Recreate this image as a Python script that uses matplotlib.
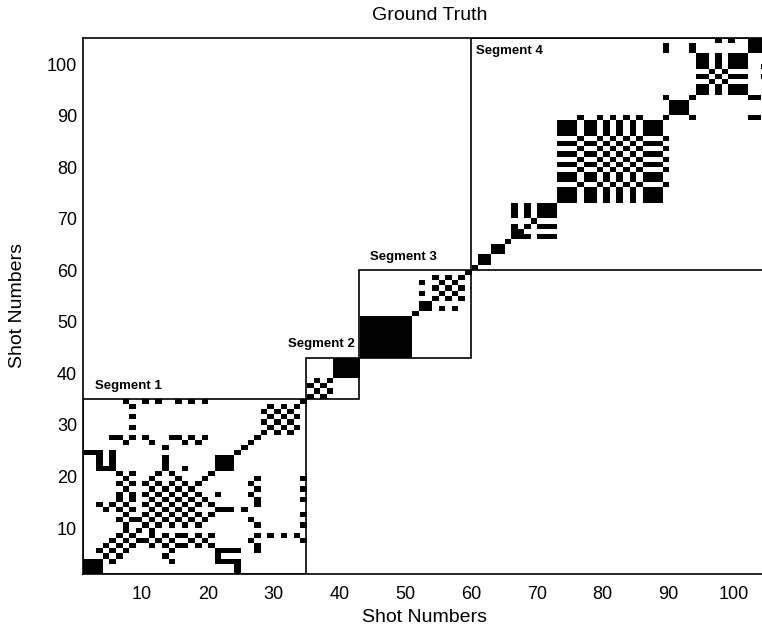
import numpy as np
import matplotlib
matplotlib.use("Agg")
import matplotlib.pyplot as plt
from matplotlib.patches import Rectangle

plt.rcParams['font.family'] = ['Liberation Sans', 'DejaVu Sans']

# ---------------- data ----------------
N_SHOTS = 104
segment_edges = [1, 35, 43, 60, 105]
segment_names = ["Segment 1", "Segment 2", "Segment 3", "Segment 4"]
tick_values = [10, 20, 30, 40, 50, 60, 70, 80, 90, 100]

# runs of consecutive shots that are all alike (solid squares on the diagonal)
alike_runs = [(1, 3), (21, 23), (39, 42), (43, 50), (52, 53), (61, 62),
              (63, 64), (66, 67), (70, 72), (90, 92), (102, 104)]

# groups of shots that are all alike (give the checkerboards)
alike_groups = [
    [28, 30, 32], [29, 31, 33],
    [35, 37], [36, 38],
    [54, 56, 58], [55, 57],
    [66, 68, 70, 71, 72],
    [73, 74, 75, 77, 78, 80, 82, 84, 86, 87, 88],
    [76, 79, 81, 83, 85, 89],
    [94, 95, 97, 99, 100, 101],
    [96, 98],
]

# single pairs of alike shots
alike_pairs = [
    (1, 24), (2, 24),
    (3, 21), (3, 22), (3, 23), (3, 24), (4, 21), (5, 21), (5, 22), (5, 23), (5, 24),
    (8, 29), (8, 31), (8, 33),
    (7, 34), (10, 34), (12, 34), (15, 34), (17, 34), (19, 34),
    (6, 27), (7, 26), (8, 27), (10, 27), (11, 26), (13, 25), (15, 27), (16, 26),
    (17, 27), (18, 26), (19, 27), (5, 27), (14, 27),
    (13, 21), (13, 22), (13, 23), (12, 20), (14, 20), (11, 19), (15, 19), (16, 21),
    (6, 20), (7, 19), (8, 20),
    (6, 16), (8, 16), (7, 17), (6, 18), (8, 18),
    (10, 16), (12, 16), (11, 17), (10, 18), (12, 18),
    (14, 16), (13, 17), (15, 17), (14, 18), (16, 18),
    (3, 14), (4, 13), (5, 14),
    (6, 13), (8, 13), (7, 14), (6, 15), (8, 15),
    (10, 14), (11, 13), (11, 15), (12, 14), (13, 15),
    (6, 11), (7, 10), (8, 11), (7, 12),
    (9, 11), (10, 12),
    (5, 7), (6, 8), (7, 9),
    (3, 5), (4, 6),
    (52, 55), (52, 57),
    (89, 93), (89, 102), (89, 103), (93, 102), (93, 103), (97, 104), (99, 104),
]

# ---------------- build matrix ----------------
M = np.zeros((N_SHOTS, N_SHOTS))
for i in range(N_SHOTS):
    M[i, i] = 1
for a, b in alike_runs:
    M[a - 1:b, a - 1:b] = 1
for g in alike_groups:
    idx = np.array(g) - 1
    M[np.ix_(idx, idx)] = 1
for a, b in alike_pairs:
    M[a - 1, b - 1] = 1
    M[b - 1, a - 1] = 1

# ---------------- figure ----------------
W, H = 762, 631
fig = plt.figure(figsize=(W / 100, H / 100), dpi=100)
left, right, top, bottom = 82.7, 767.0, 38.4, 574.4
ax = fig.add_axes([left / W, (H - bottom) / H, (right - left) / W, (bottom - top) / H])

ax.imshow(M, cmap='gray_r', origin='lower', vmin=0, vmax=1,
          extent=[1, N_SHOTS + 1, 1, N_SHOTS + 1], aspect='auto',
          interpolation='nearest')

for k in range(len(segment_names)):
    e0, e1 = segment_edges[k], segment_edges[k + 1]
    ax.add_patch(Rectangle((e0, e0), e1 - e0, e1 - e0, fill=False,
                           edgecolor='black', linewidth=1.2))

seg_kw = dict(fontsize=9.5, fontweight='bold', va='baseline')
ax.text(2.9, 37.0, segment_names[0], ha='left', **seg_kw)
ax.text(42.3, 45.2, segment_names[1], ha='right', **seg_kw)
ax.text(44.6, 62.0, segment_names[2], ha='left', **seg_kw)
ax.text(60.8, 102.0, segment_names[3], ha='left', **seg_kw)

ax.set_xlim(1, N_SHOTS + 1)
ax.set_ylim(1, N_SHOTS + 1)
ax.set_xticks(tick_values)
ax.set_yticks(tick_values)
ax.set_xticklabels([str(v) for v in tick_values])
ax.set_yticklabels([str(v) for v in tick_values])
ax.tick_params(length=0, labelsize=13)
ax.tick_params(axis='x', pad=8)
ax.tick_params(axis='y', pad=4)
for s in ax.spines.values():
    s.set_linewidth(1.2)
    s.set_color('black')

fig.text(430 / W, 1 - 15 / H, "Ground Truth", ha='center', va='center', fontsize=14)
fig.text(425 / W, 1 - 618 / H, "Shot Numbers", ha='center', va='center', fontsize=14)
fig.text(18 / W, 1 - 306 / H, "Shot Numbers", ha='center', va='center',
         rotation=90, fontsize=14)

fig.savefig("out.png", dpi=100)
